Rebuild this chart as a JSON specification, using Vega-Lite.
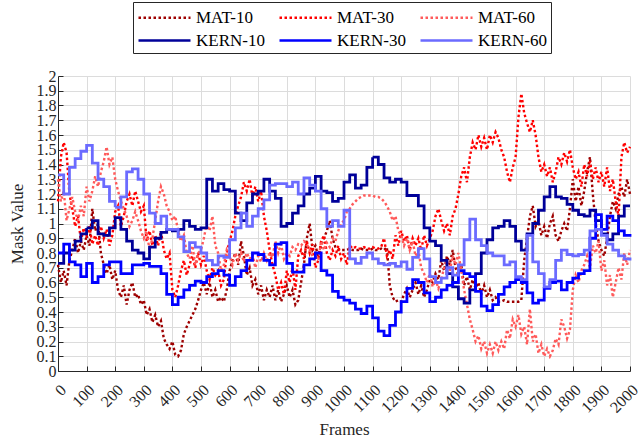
{
  "$schema": "https://vega.github.io/schema/vega-lite/v6.json",
  "width": 572,
  "height": 295,
  "autosize": {"type": "none"},
  "padding": {"left": 58, "top": 76, "right": 10, "bottom": 72},
  "config": {
    "font": "Liberation Serif",
    "view": {"stroke": null},
    "axis": {
      "labelFont": "Liberation Serif",
      "labelFontSize": 16,
      "labelColor": "#262626",
      "titleFont": "Liberation Serif",
      "titleFontSize": 17,
      "titleFontWeight": "normal",
      "titleColor": "#262626",
      "gridColor": "#dcdcdc",
      "gridWidth": 1,
      "domainColor": "#262626",
      "tickColor": "#262626"
    }
  },
  "data": {
    "values": [
      {"s":"MAT-10","f":0,"v":0.72},{"s":"MAT-10","f":10,"v":0.6},{"s":"MAT-10","f":20,"v":0.68},{"s":"MAT-10","f":30,"v":0.58},{"s":"MAT-10","f":40,"v":0.75},{"s":"MAT-10","f":50,"v":0.82},{"s":"MAT-10","f":60,"v":0.9},{"s":"MAT-10","f":70,"v":0.8},{"s":"MAT-10","f":80,"v":0.88},{"s":"MAT-10","f":90,"v":0.82},
      {"s":"MAT-10","f":100,"v":0.92},{"s":"MAT-10","f":110,"v":0.85},{"s":"MAT-10","f":120,"v":1.1},{"s":"MAT-10","f":130,"v":0.95},{"s":"MAT-10","f":140,"v":1.0},{"s":"MAT-10","f":150,"v":0.8},{"s":"MAT-10","f":160,"v":0.72},{"s":"MAT-10","f":170,"v":0.66},{"s":"MAT-10","f":180,"v":0.72},{"s":"MAT-10","f":190,"v":0.62},
      {"s":"MAT-10","f":200,"v":0.68},{"s":"MAT-10","f":210,"v":0.55},{"s":"MAT-10","f":220,"v":0.5},{"s":"MAT-10","f":230,"v":0.58},{"s":"MAT-10","f":240,"v":0.45},{"s":"MAT-10","f":250,"v":0.55},{"s":"MAT-10","f":260,"v":0.6},{"s":"MAT-10","f":270,"v":0.5},{"s":"MAT-10","f":280,"v":0.52},{"s":"MAT-10","f":290,"v":0.45},
      {"s":"MAT-10","f":300,"v":0.48},{"s":"MAT-10","f":310,"v":0.38},{"s":"MAT-10","f":320,"v":0.42},{"s":"MAT-10","f":330,"v":0.33},{"s":"MAT-10","f":340,"v":0.38},{"s":"MAT-10","f":350,"v":0.3},{"s":"MAT-10","f":360,"v":0.34},{"s":"MAT-10","f":370,"v":0.22},{"s":"MAT-10","f":380,"v":0.18},{"s":"MAT-10","f":390,"v":0.15},
      {"s":"MAT-10","f":400,"v":0.2},{"s":"MAT-10","f":410,"v":0.11},{"s":"MAT-10","f":420,"v":0.1},{"s":"MAT-10","f":430,"v":0.14},{"s":"MAT-10","f":440,"v":0.25},{"s":"MAT-10","f":450,"v":0.3},{"s":"MAT-10","f":460,"v":0.34},{"s":"MAT-10","f":470,"v":0.38},{"s":"MAT-10","f":480,"v":0.42},{"s":"MAT-10","f":490,"v":0.48},
      {"s":"MAT-10","f":500,"v":0.55},{"s":"MAT-10","f":510,"v":0.6},{"s":"MAT-10","f":520,"v":0.52},{"s":"MAT-10","f":530,"v":0.6},{"s":"MAT-10","f":540,"v":0.5},{"s":"MAT-10","f":550,"v":0.55},{"s":"MAT-10","f":560,"v":0.47},{"s":"MAT-10","f":570,"v":0.5},{"s":"MAT-10","f":580,"v":0.47},{"s":"MAT-10","f":590,"v":0.55},
      {"s":"MAT-10","f":600,"v":0.68},{"s":"MAT-10","f":610,"v":0.75},{"s":"MAT-10","f":620,"v":0.8},{"s":"MAT-10","f":630,"v":0.72},{"s":"MAT-10","f":640,"v":0.88},{"s":"MAT-10","f":650,"v":0.78},{"s":"MAT-10","f":660,"v":0.65},{"s":"MAT-10","f":670,"v":0.7},{"s":"MAT-10","f":680,"v":0.58},{"s":"MAT-10","f":690,"v":0.62},
      {"s":"MAT-10","f":700,"v":0.52},{"s":"MAT-10","f":710,"v":0.58},{"s":"MAT-10","f":720,"v":0.48},{"s":"MAT-10","f":730,"v":0.55},{"s":"MAT-10","f":740,"v":0.5},{"s":"MAT-10","f":750,"v":0.58},{"s":"MAT-10","f":760,"v":0.48},{"s":"MAT-10","f":770,"v":0.55},{"s":"MAT-10","f":780,"v":0.47},{"s":"MAT-10","f":790,"v":0.52},
      {"s":"MAT-10","f":800,"v":0.58},{"s":"MAT-10","f":810,"v":0.5},{"s":"MAT-10","f":820,"v":0.55},{"s":"MAT-10","f":830,"v":0.45},{"s":"MAT-10","f":840,"v":0.48},{"s":"MAT-10","f":850,"v":0.6},{"s":"MAT-10","f":860,"v":0.72},{"s":"MAT-10","f":870,"v":0.9},{"s":"MAT-10","f":880,"v":1.0},{"s":"MAT-10","f":890,"v":0.82},
      {"s":"MAT-10","f":900,"v":0.85},{"s":"MAT-10","f":910,"v":0.78},{"s":"MAT-10","f":920,"v":0.85},{"s":"MAT-10","f":930,"v":0.9},{"s":"MAT-10","f":940,"v":0.95},{"s":"MAT-10","f":950,"v":1.02},{"s":"MAT-10","f":960,"v":0.9},{"s":"MAT-10","f":970,"v":0.84},{"s":"MAT-10","f":980,"v":0.82},{"s":"MAT-10","f":990,"v":0.82},
      {"s":"MAT-10","f":1000,"v":0.82},{"s":"MAT-10","f":1010,"v":0.82},{"s":"MAT-10","f":1020,"v":0.83},{"s":"MAT-10","f":1030,"v":0.82},{"s":"MAT-10","f":1040,"v":0.82},{"s":"MAT-10","f":1050,"v":0.82},{"s":"MAT-10","f":1060,"v":0.83},{"s":"MAT-10","f":1070,"v":0.82},{"s":"MAT-10","f":1080,"v":0.82},{"s":"MAT-10","f":1090,"v":0.82},
      {"s":"MAT-10","f":1100,"v":0.83},{"s":"MAT-10","f":1110,"v":0.82},{"s":"MAT-10","f":1120,"v":0.82},{"s":"MAT-10","f":1130,"v":0.83},{"s":"MAT-10","f":1140,"v":0.82},{"s":"MAT-10","f":1150,"v":0.84},{"s":"MAT-10","f":1160,"v":0.58},{"s":"MAT-10","f":1170,"v":0.5},{"s":"MAT-10","f":1180,"v":0.47},{"s":"MAT-10","f":1190,"v":0.48},
      {"s":"MAT-10","f":1200,"v":0.47},{"s":"MAT-10","f":1210,"v":0.52},{"s":"MAT-10","f":1220,"v":0.56},{"s":"MAT-10","f":1230,"v":0.5},{"s":"MAT-10","f":1240,"v":0.55},{"s":"MAT-10","f":1250,"v":0.6},{"s":"MAT-10","f":1260,"v":0.52},{"s":"MAT-10","f":1270,"v":0.58},{"s":"MAT-10","f":1280,"v":0.5},{"s":"MAT-10","f":1290,"v":0.55},
      {"s":"MAT-10","f":1300,"v":0.62},{"s":"MAT-10","f":1310,"v":0.6},{"s":"MAT-10","f":1320,"v":0.66},{"s":"MAT-10","f":1330,"v":0.62},{"s":"MAT-10","f":1340,"v":0.75},{"s":"MAT-10","f":1350,"v":0.68},{"s":"MAT-10","f":1360,"v":0.78},{"s":"MAT-10","f":1370,"v":0.72},{"s":"MAT-10","f":1380,"v":0.82},{"s":"MAT-10","f":1390,"v":0.7},
      {"s":"MAT-10","f":1400,"v":0.65},{"s":"MAT-10","f":1410,"v":0.72},{"s":"MAT-10","f":1420,"v":0.58},{"s":"MAT-10","f":1430,"v":0.64},{"s":"MAT-10","f":1440,"v":0.55},{"s":"MAT-10","f":1450,"v":0.62},{"s":"MAT-10","f":1460,"v":0.56},{"s":"MAT-10","f":1470,"v":0.6},{"s":"MAT-10","f":1480,"v":0.52},{"s":"MAT-10","f":1490,"v":0.58},
      {"s":"MAT-10","f":1500,"v":0.5},{"s":"MAT-10","f":1510,"v":0.55},{"s":"MAT-10","f":1520,"v":0.48},{"s":"MAT-10","f":1530,"v":0.5},{"s":"MAT-10","f":1540,"v":0.47},{"s":"MAT-10","f":1550,"v":0.47},{"s":"MAT-10","f":1560,"v":0.48},{"s":"MAT-10","f":1570,"v":0.47},{"s":"MAT-10","f":1580,"v":0.47},{"s":"MAT-10","f":1590,"v":0.47},
      {"s":"MAT-10","f":1600,"v":0.47},{"s":"MAT-10","f":1610,"v":0.47},{"s":"MAT-10","f":1620,"v":0.48},{"s":"MAT-10","f":1630,"v":0.75},{"s":"MAT-10","f":1640,"v":0.9},{"s":"MAT-10","f":1650,"v":1.05},{"s":"MAT-10","f":1660,"v":1.12},{"s":"MAT-10","f":1670,"v":0.98},{"s":"MAT-10","f":1680,"v":1.02},{"s":"MAT-10","f":1690,"v":0.92},
      {"s":"MAT-10","f":1700,"v":0.98},{"s":"MAT-10","f":1710,"v":0.9},{"s":"MAT-10","f":1720,"v":1.0},{"s":"MAT-10","f":1730,"v":1.05},{"s":"MAT-10","f":1740,"v":0.92},{"s":"MAT-10","f":1750,"v":0.88},{"s":"MAT-10","f":1760,"v":0.95},{"s":"MAT-10","f":1770,"v":1.0},{"s":"MAT-10","f":1780,"v":0.95},{"s":"MAT-10","f":1790,"v":1.1},
      {"s":"MAT-10","f":1800,"v":1.3},{"s":"MAT-10","f":1810,"v":1.15},{"s":"MAT-10","f":1820,"v":1.25},{"s":"MAT-10","f":1830,"v":1.12},{"s":"MAT-10","f":1840,"v":1.22},{"s":"MAT-10","f":1850,"v":1.35},{"s":"MAT-10","f":1860,"v":1.45},{"s":"MAT-10","f":1870,"v":1.2},{"s":"MAT-10","f":1880,"v":1.0},{"s":"MAT-10","f":1890,"v":0.88},
      {"s":"MAT-10","f":1900,"v":0.82},{"s":"MAT-10","f":1910,"v":0.78},{"s":"MAT-10","f":1920,"v":0.9},{"s":"MAT-10","f":1930,"v":1.05},{"s":"MAT-10","f":1940,"v":1.15},{"s":"MAT-10","f":1950,"v":1.1},{"s":"MAT-10","f":1960,"v":1.2},{"s":"MAT-10","f":1970,"v":1.25},{"s":"MAT-10","f":1980,"v":1.18},{"s":"MAT-10","f":1990,"v":1.3},
      {"s":"MAT-10","f":2000,"v":1.2},

      {"s":"MAT-30","f":0,"v":1.15},{"s":"MAT-30","f":10,"v":1.45},{"s":"MAT-30","f":20,"v":1.55},{"s":"MAT-30","f":30,"v":1.48},{"s":"MAT-30","f":40,"v":1.2},{"s":"MAT-30","f":50,"v":1.1},{"s":"MAT-30","f":60,"v":0.98},{"s":"MAT-30","f":70,"v":1.05},{"s":"MAT-30","f":80,"v":0.88},{"s":"MAT-30","f":90,"v":0.97},
      {"s":"MAT-30","f":100,"v":0.92},{"s":"MAT-30","f":110,"v":0.98},{"s":"MAT-30","f":120,"v":0.86},{"s":"MAT-30","f":130,"v":0.92},{"s":"MAT-30","f":140,"v":0.85},{"s":"MAT-30","f":150,"v":0.98},{"s":"MAT-30","f":160,"v":0.9},{"s":"MAT-30","f":170,"v":0.96},{"s":"MAT-30","f":180,"v":0.85},{"s":"MAT-30","f":190,"v":0.92},
      {"s":"MAT-30","f":200,"v":1.08},{"s":"MAT-30","f":210,"v":1.12},{"s":"MAT-30","f":220,"v":0.98},{"s":"MAT-30","f":230,"v":1.05},{"s":"MAT-30","f":240,"v":1.15},{"s":"MAT-30","f":250,"v":1.2},{"s":"MAT-30","f":260,"v":1.12},{"s":"MAT-30","f":270,"v":1.22},{"s":"MAT-30","f":280,"v":1.15},{"s":"MAT-30","f":290,"v":1.08},
      {"s":"MAT-30","f":300,"v":1.12},{"s":"MAT-30","f":310,"v":0.88},{"s":"MAT-30","f":320,"v":0.95},{"s":"MAT-30","f":330,"v":0.85},{"s":"MAT-30","f":340,"v":0.92},{"s":"MAT-30","f":350,"v":0.85},{"s":"MAT-30","f":360,"v":0.95},{"s":"MAT-30","f":370,"v":0.82},{"s":"MAT-30","f":380,"v":0.76},{"s":"MAT-30","f":390,"v":0.8},
      {"s":"MAT-30","f":400,"v":0.55},{"s":"MAT-30","f":410,"v":0.5},{"s":"MAT-30","f":420,"v":0.58},{"s":"MAT-30","f":430,"v":0.68},{"s":"MAT-30","f":440,"v":0.75},{"s":"MAT-30","f":450,"v":0.65},{"s":"MAT-30","f":460,"v":0.72},{"s":"MAT-30","f":470,"v":0.78},{"s":"MAT-30","f":480,"v":0.7},{"s":"MAT-30","f":490,"v":0.8},
      {"s":"MAT-30","f":500,"v":0.72},{"s":"MAT-30","f":510,"v":0.78},{"s":"MAT-30","f":520,"v":0.68},{"s":"MAT-30","f":530,"v":0.62},{"s":"MAT-30","f":540,"v":0.7},{"s":"MAT-30","f":550,"v":0.65},{"s":"MAT-30","f":560,"v":0.68},{"s":"MAT-30","f":570,"v":0.58},{"s":"MAT-30","f":580,"v":0.62},{"s":"MAT-30","f":590,"v":0.8},
      {"s":"MAT-30","f":600,"v":0.88},{"s":"MAT-30","f":610,"v":0.95},{"s":"MAT-30","f":620,"v":1.05},{"s":"MAT-30","f":630,"v":1.12},{"s":"MAT-30","f":640,"v":1.18},{"s":"MAT-30","f":650,"v":1.28},{"s":"MAT-30","f":660,"v":1.22},{"s":"MAT-30","f":670,"v":1.3},{"s":"MAT-30","f":680,"v":1.18},{"s":"MAT-30","f":690,"v":1.25},
      {"s":"MAT-30","f":700,"v":1.15},{"s":"MAT-30","f":710,"v":1.22},{"s":"MAT-30","f":720,"v":1.05},{"s":"MAT-30","f":730,"v":0.95},{"s":"MAT-30","f":740,"v":0.82},{"s":"MAT-30","f":750,"v":0.72},{"s":"MAT-30","f":760,"v":0.65},{"s":"MAT-30","f":770,"v":0.55},{"s":"MAT-30","f":780,"v":0.6},{"s":"MAT-30","f":790,"v":0.52},
      {"s":"MAT-30","f":800,"v":0.68},{"s":"MAT-30","f":810,"v":0.6},{"s":"MAT-30","f":820,"v":0.7},{"s":"MAT-30","f":830,"v":0.55},{"s":"MAT-30","f":840,"v":0.78},{"s":"MAT-30","f":850,"v":0.82},{"s":"MAT-30","f":860,"v":0.76},{"s":"MAT-30","f":870,"v":0.88},{"s":"MAT-30","f":880,"v":0.8},{"s":"MAT-30","f":890,"v":0.86},
      {"s":"MAT-30","f":900,"v":0.7},{"s":"MAT-30","f":910,"v":0.75},{"s":"MAT-30","f":920,"v":0.88},{"s":"MAT-30","f":930,"v":0.92},{"s":"MAT-30","f":940,"v":0.8},{"s":"MAT-30","f":950,"v":0.75},{"s":"MAT-30","f":960,"v":0.82},{"s":"MAT-30","f":970,"v":0.78},{"s":"MAT-30","f":980,"v":0.85},{"s":"MAT-30","f":990,"v":0.76},
      {"s":"MAT-30","f":1000,"v":0.8},{"s":"MAT-30","f":1010,"v":0.72},{"s":"MAT-30","f":1020,"v":0.85},{"s":"MAT-30","f":1030,"v":0.83},{"s":"MAT-30","f":1040,"v":0.84},{"s":"MAT-30","f":1050,"v":0.83},{"s":"MAT-30","f":1060,"v":0.83},{"s":"MAT-30","f":1070,"v":0.84},{"s":"MAT-30","f":1080,"v":0.83},{"s":"MAT-30","f":1090,"v":0.83},
      {"s":"MAT-30","f":1100,"v":0.84},{"s":"MAT-30","f":1110,"v":0.83},{"s":"MAT-30","f":1120,"v":0.83},{"s":"MAT-30","f":1130,"v":0.84},{"s":"MAT-30","f":1140,"v":0.9},{"s":"MAT-30","f":1150,"v":0.78},{"s":"MAT-30","f":1160,"v":0.82},{"s":"MAT-30","f":1170,"v":0.76},{"s":"MAT-30","f":1180,"v":0.92},{"s":"MAT-30","f":1190,"v":0.85},
      {"s":"MAT-30","f":1200,"v":0.95},{"s":"MAT-30","f":1210,"v":0.88},{"s":"MAT-30","f":1220,"v":0.92},{"s":"MAT-30","f":1230,"v":0.82},{"s":"MAT-30","f":1240,"v":0.9},{"s":"MAT-30","f":1250,"v":0.85},{"s":"MAT-30","f":1260,"v":0.9},{"s":"MAT-30","f":1270,"v":0.82},{"s":"MAT-30","f":1280,"v":0.92},{"s":"MAT-30","f":1290,"v":0.85},
      {"s":"MAT-30","f":1300,"v":0.9},{"s":"MAT-30","f":1310,"v":0.95},{"s":"MAT-30","f":1320,"v":1.05},{"s":"MAT-30","f":1330,"v":1.1},{"s":"MAT-30","f":1340,"v":1.02},{"s":"MAT-30","f":1350,"v":0.95},{"s":"MAT-30","f":1360,"v":1.0},{"s":"MAT-30","f":1370,"v":0.92},{"s":"MAT-30","f":1380,"v":1.05},{"s":"MAT-30","f":1390,"v":1.1},
      {"s":"MAT-30","f":1400,"v":1.2},{"s":"MAT-30","f":1410,"v":1.32},{"s":"MAT-30","f":1420,"v":1.38},{"s":"MAT-30","f":1430,"v":1.28},{"s":"MAT-30","f":1440,"v":1.45},{"s":"MAT-30","f":1450,"v":1.55},{"s":"MAT-30","f":1460,"v":1.5},{"s":"MAT-30","f":1470,"v":1.6},{"s":"MAT-30","f":1480,"v":1.52},{"s":"MAT-30","f":1490,"v":1.58},
      {"s":"MAT-30","f":1500,"v":1.5},{"s":"MAT-30","f":1510,"v":1.6},{"s":"MAT-30","f":1520,"v":1.55},{"s":"MAT-30","f":1530,"v":1.62},{"s":"MAT-30","f":1540,"v":1.58},{"s":"MAT-30","f":1550,"v":1.5},{"s":"MAT-30","f":1560,"v":1.45},{"s":"MAT-30","f":1570,"v":1.35},{"s":"MAT-30","f":1580,"v":1.28},{"s":"MAT-30","f":1590,"v":1.38},
      {"s":"MAT-30","f":1600,"v":1.45},{"s":"MAT-30","f":1610,"v":1.72},{"s":"MAT-30","f":1620,"v":1.88},{"s":"MAT-30","f":1630,"v":1.75},{"s":"MAT-30","f":1640,"v":1.68},{"s":"MAT-30","f":1650,"v":1.62},{"s":"MAT-30","f":1660,"v":1.7},{"s":"MAT-30","f":1670,"v":1.6},{"s":"MAT-30","f":1680,"v":1.45},{"s":"MAT-30","f":1690,"v":1.35},
      {"s":"MAT-30","f":1700,"v":1.4},{"s":"MAT-30","f":1710,"v":1.32},{"s":"MAT-30","f":1720,"v":1.38},{"s":"MAT-30","f":1730,"v":1.28},{"s":"MAT-30","f":1740,"v":1.35},{"s":"MAT-30","f":1750,"v":1.45},{"s":"MAT-30","f":1760,"v":1.4},{"s":"MAT-30","f":1770,"v":1.48},{"s":"MAT-30","f":1780,"v":1.42},{"s":"MAT-30","f":1790,"v":1.5},
      {"s":"MAT-30","f":1800,"v":1.38},{"s":"MAT-30","f":1810,"v":1.3},{"s":"MAT-30","f":1820,"v":1.35},{"s":"MAT-30","f":1830,"v":1.25},{"s":"MAT-30","f":1840,"v":1.4},{"s":"MAT-30","f":1850,"v":1.32},{"s":"MAT-30","f":1860,"v":1.42},{"s":"MAT-30","f":1870,"v":1.3},{"s":"MAT-30","f":1880,"v":1.38},{"s":"MAT-30","f":1890,"v":1.28},
      {"s":"MAT-30","f":1900,"v":1.35},{"s":"MAT-30","f":1910,"v":1.25},{"s":"MAT-30","f":1920,"v":1.38},{"s":"MAT-30","f":1930,"v":1.22},{"s":"MAT-30","f":1940,"v":1.3},{"s":"MAT-30","f":1950,"v":1.15},{"s":"MAT-30","f":1960,"v":1.05},{"s":"MAT-30","f":1970,"v":1.45},{"s":"MAT-30","f":1980,"v":1.55},{"s":"MAT-30","f":1990,"v":1.48},
      {"s":"MAT-30","f":2000,"v":1.52},

      {"s":"MAT-60","f":0,"v":1.3},{"s":"MAT-60","f":10,"v":1.15},{"s":"MAT-60","f":20,"v":1.22},{"s":"MAT-60","f":30,"v":1.02},{"s":"MAT-60","f":40,"v":1.1},{"s":"MAT-60","f":50,"v":1.18},{"s":"MAT-60","f":60,"v":1.08},{"s":"MAT-60","f":70,"v":1.02},{"s":"MAT-60","f":80,"v":1.12},{"s":"MAT-60","f":90,"v":1.05},
      {"s":"MAT-60","f":100,"v":1.25},{"s":"MAT-60","f":110,"v":1.15},{"s":"MAT-60","f":120,"v":1.22},{"s":"MAT-60","f":130,"v":1.32},{"s":"MAT-60","f":140,"v":1.25},{"s":"MAT-60","f":150,"v":1.35},{"s":"MAT-60","f":160,"v":1.42},{"s":"MAT-60","f":170,"v":1.52},{"s":"MAT-60","f":180,"v":1.4},{"s":"MAT-60","f":190,"v":1.45},
      {"s":"MAT-60","f":200,"v":1.3},{"s":"MAT-60","f":210,"v":1.22},{"s":"MAT-60","f":220,"v":1.15},{"s":"MAT-60","f":230,"v":1.1},{"s":"MAT-60","f":240,"v":1.05},{"s":"MAT-60","f":250,"v":0.98},{"s":"MAT-60","f":260,"v":1.02},{"s":"MAT-60","f":270,"v":1.08},{"s":"MAT-60","f":280,"v":1.02},{"s":"MAT-60","f":290,"v":0.95},
      {"s":"MAT-60","f":300,"v":0.9},{"s":"MAT-60","f":310,"v":0.95},{"s":"MAT-60","f":320,"v":0.82},{"s":"MAT-60","f":330,"v":0.9},{"s":"MAT-60","f":340,"v":1.02},{"s":"MAT-60","f":350,"v":1.15},{"s":"MAT-60","f":360,"v":1.25},{"s":"MAT-60","f":370,"v":1.2},{"s":"MAT-60","f":380,"v":1.12},{"s":"MAT-60","f":390,"v":1.08},
      {"s":"MAT-60","f":400,"v":1.02},{"s":"MAT-60","f":410,"v":1.05},{"s":"MAT-60","f":420,"v":0.95},{"s":"MAT-60","f":430,"v":0.88},{"s":"MAT-60","f":440,"v":0.92},{"s":"MAT-60","f":450,"v":0.8},{"s":"MAT-60","f":460,"v":0.76},{"s":"MAT-60","f":470,"v":0.85},{"s":"MAT-60","f":480,"v":0.72},{"s":"MAT-60","f":490,"v":0.8},
      {"s":"MAT-60","f":500,"v":0.82},{"s":"MAT-60","f":510,"v":0.9},{"s":"MAT-60","f":520,"v":1.0},{"s":"MAT-60","f":530,"v":0.95},{"s":"MAT-60","f":540,"v":1.05},{"s":"MAT-60","f":550,"v":0.85},{"s":"MAT-60","f":560,"v":0.8},{"s":"MAT-60","f":570,"v":0.68},{"s":"MAT-60","f":580,"v":0.72},{"s":"MAT-60","f":590,"v":0.82},
      {"s":"MAT-60","f":600,"v":0.78},{"s":"MAT-60","f":610,"v":0.72},{"s":"MAT-60","f":620,"v":0.8},{"s":"MAT-60","f":630,"v":0.75},{"s":"MAT-60","f":640,"v":0.8},{"s":"MAT-60","f":650,"v":0.74},{"s":"MAT-60","f":660,"v":0.8},{"s":"MAT-60","f":670,"v":0.76},{"s":"MAT-60","f":680,"v":0.79},{"s":"MAT-60","f":690,"v":0.7},
      {"s":"MAT-60","f":700,"v":0.78},{"s":"MAT-60","f":710,"v":0.74},{"s":"MAT-60","f":720,"v":0.8},{"s":"MAT-60","f":730,"v":0.75},{"s":"MAT-60","f":740,"v":0.8},{"s":"MAT-60","f":750,"v":0.77},{"s":"MAT-60","f":760,"v":0.88},{"s":"MAT-60","f":770,"v":0.8},{"s":"MAT-60","f":780,"v":0.86},{"s":"MAT-60","f":790,"v":0.76},
      {"s":"MAT-60","f":800,"v":0.8},{"s":"MAT-60","f":810,"v":0.78},{"s":"MAT-60","f":820,"v":0.84},{"s":"MAT-60","f":830,"v":0.82},{"s":"MAT-60","f":840,"v":0.86},{"s":"MAT-60","f":850,"v":0.85},{"s":"MAT-60","f":860,"v":0.88},{"s":"MAT-60","f":870,"v":0.86},{"s":"MAT-60","f":880,"v":0.82},{"s":"MAT-60","f":890,"v":0.78},
      {"s":"MAT-60","f":900,"v":0.8},{"s":"MAT-60","f":910,"v":0.75},{"s":"MAT-60","f":920,"v":0.88},{"s":"MAT-60","f":930,"v":0.82},{"s":"MAT-60","f":940,"v":0.87},{"s":"MAT-60","f":950,"v":0.84},{"s":"MAT-60","f":960,"v":0.9},{"s":"MAT-60","f":970,"v":0.88},{"s":"MAT-60","f":980,"v":0.95},{"s":"MAT-60","f":990,"v":1.0},
      {"s":"MAT-60","f":1000,"v":1.02},{"s":"MAT-60","f":1010,"v":1.08},{"s":"MAT-60","f":1020,"v":1.1},{"s":"MAT-60","f":1030,"v":1.13},{"s":"MAT-60","f":1040,"v":1.15},{"s":"MAT-60","f":1050,"v":1.17},{"s":"MAT-60","f":1060,"v":1.18},{"s":"MAT-60","f":1070,"v":1.19},{"s":"MAT-60","f":1080,"v":1.19},{"s":"MAT-60","f":1090,"v":1.19},
      {"s":"MAT-60","f":1100,"v":1.19},{"s":"MAT-60","f":1110,"v":1.18},{"s":"MAT-60","f":1120,"v":1.18},{"s":"MAT-60","f":1130,"v":1.17},{"s":"MAT-60","f":1140,"v":1.15},{"s":"MAT-60","f":1150,"v":1.12},{"s":"MAT-60","f":1160,"v":1.08},{"s":"MAT-60","f":1170,"v":1.02},{"s":"MAT-60","f":1180,"v":1.05},{"s":"MAT-60","f":1190,"v":0.95},
      {"s":"MAT-60","f":1200,"v":0.92},{"s":"MAT-60","f":1210,"v":0.85},{"s":"MAT-60","f":1220,"v":0.9},{"s":"MAT-60","f":1230,"v":0.82},{"s":"MAT-60","f":1240,"v":0.88},{"s":"MAT-60","f":1250,"v":0.78},{"s":"MAT-60","f":1260,"v":0.82},{"s":"MAT-60","f":1270,"v":0.7},{"s":"MAT-60","f":1280,"v":0.66},{"s":"MAT-60","f":1290,"v":0.6},
      {"s":"MAT-60","f":1300,"v":0.66},{"s":"MAT-60","f":1310,"v":0.57},{"s":"MAT-60","f":1320,"v":0.62},{"s":"MAT-60","f":1330,"v":0.56},{"s":"MAT-60","f":1340,"v":0.62},{"s":"MAT-60","f":1350,"v":0.7},{"s":"MAT-60","f":1360,"v":0.75},{"s":"MAT-60","f":1370,"v":0.68},{"s":"MAT-60","f":1380,"v":0.78},{"s":"MAT-60","f":1390,"v":0.72},
      {"s":"MAT-60","f":1400,"v":0.8},{"s":"MAT-60","f":1410,"v":0.68},{"s":"MAT-60","f":1420,"v":0.55},{"s":"MAT-60","f":1430,"v":0.45},{"s":"MAT-60","f":1440,"v":0.35},{"s":"MAT-60","f":1450,"v":0.28},{"s":"MAT-60","f":1460,"v":0.2},{"s":"MAT-60","f":1470,"v":0.24},{"s":"MAT-60","f":1480,"v":0.15},{"s":"MAT-60","f":1490,"v":0.2},
      {"s":"MAT-60","f":1500,"v":0.12},{"s":"MAT-60","f":1510,"v":0.18},{"s":"MAT-60","f":1520,"v":0.12},{"s":"MAT-60","f":1530,"v":0.2},{"s":"MAT-60","f":1540,"v":0.14},{"s":"MAT-60","f":1550,"v":0.2},{"s":"MAT-60","f":1560,"v":0.15},{"s":"MAT-60","f":1570,"v":0.28},{"s":"MAT-60","f":1580,"v":0.22},{"s":"MAT-60","f":1590,"v":0.35},
      {"s":"MAT-60","f":1600,"v":0.3},{"s":"MAT-60","f":1610,"v":0.38},{"s":"MAT-60","f":1620,"v":0.25},{"s":"MAT-60","f":1630,"v":0.3},{"s":"MAT-60","f":1640,"v":0.18},{"s":"MAT-60","f":1650,"v":0.42},{"s":"MAT-60","f":1660,"v":0.2},{"s":"MAT-60","f":1670,"v":0.25},{"s":"MAT-60","f":1680,"v":0.12},{"s":"MAT-60","f":1690,"v":0.18},
      {"s":"MAT-60","f":1700,"v":0.1},{"s":"MAT-60","f":1710,"v":0.15},{"s":"MAT-60","f":1720,"v":0.1},{"s":"MAT-60","f":1730,"v":0.14},{"s":"MAT-60","f":1740,"v":0.22},{"s":"MAT-60","f":1750,"v":0.18},{"s":"MAT-60","f":1760,"v":0.35},{"s":"MAT-60","f":1770,"v":0.3},{"s":"MAT-60","f":1780,"v":0.22},{"s":"MAT-60","f":1790,"v":0.28},
      {"s":"MAT-60","f":1800,"v":0.55},{"s":"MAT-60","f":1810,"v":0.65},{"s":"MAT-60","f":1820,"v":0.6},{"s":"MAT-60","f":1830,"v":0.68},{"s":"MAT-60","f":1840,"v":0.72},{"s":"MAT-60","f":1850,"v":0.78},{"s":"MAT-60","f":1860,"v":0.7},{"s":"MAT-60","f":1870,"v":0.85},{"s":"MAT-60","f":1880,"v":0.8},{"s":"MAT-60","f":1890,"v":0.88},
      {"s":"MAT-60","f":1900,"v":0.68},{"s":"MAT-60","f":1910,"v":0.75},{"s":"MAT-60","f":1920,"v":0.58},{"s":"MAT-60","f":1930,"v":0.65},{"s":"MAT-60","f":1940,"v":0.5},{"s":"MAT-60","f":1950,"v":0.6},{"s":"MAT-60","f":1960,"v":0.7},{"s":"MAT-60","f":1970,"v":0.62},{"s":"MAT-60","f":1980,"v":0.8},{"s":"MAT-60","f":1990,"v":0.72},
      {"s":"MAT-60","f":2000,"v":0.82},

      {"s":"KERN-10","f":0,"v":0.73},{"s":"KERN-10","f":20,"v":0.8},{"s":"KERN-10","f":40,"v":0.82},{"s":"KERN-10","f":60,"v":0.88},{"s":"KERN-10","f":80,"v":0.93},{"s":"KERN-10","f":100,"v":0.97},{"s":"KERN-10","f":120,"v":1.02},{"s":"KERN-10","f":140,"v":0.93},{"s":"KERN-10","f":160,"v":0.92},{"s":"KERN-10","f":180,"v":0.97},
      {"s":"KERN-10","f":200,"v":1.04},{"s":"KERN-10","f":220,"v":0.96},{"s":"KERN-10","f":240,"v":0.88},{"s":"KERN-10","f":260,"v":0.82},{"s":"KERN-10","f":280,"v":0.8},{"s":"KERN-10","f":300,"v":0.76},{"s":"KERN-10","f":320,"v":0.84},{"s":"KERN-10","f":340,"v":0.9},{"s":"KERN-10","f":360,"v":0.94},{"s":"KERN-10","f":380,"v":0.96},
      {"s":"KERN-10","f":400,"v":0.95},{"s":"KERN-10","f":420,"v":0.96},{"s":"KERN-10","f":440,"v":1.02},{"s":"KERN-10","f":460,"v":0.98},{"s":"KERN-10","f":480,"v":0.96},{"s":"KERN-10","f":500,"v":0.97},{"s":"KERN-10","f":520,"v":1.3},{"s":"KERN-10","f":540,"v":1.22},{"s":"KERN-10","f":560,"v":1.27},{"s":"KERN-10","f":580,"v":1.23},
      {"s":"KERN-10","f":600,"v":1.22},{"s":"KERN-10","f":620,"v":1.07},{"s":"KERN-10","f":640,"v":1.02},{"s":"KERN-10","f":660,"v":1.14},{"s":"KERN-10","f":680,"v":1.2},{"s":"KERN-10","f":700,"v":1.22},{"s":"KERN-10","f":720,"v":1.3},{"s":"KERN-10","f":740,"v":1.22},{"s":"KERN-10","f":760,"v":1.17},{"s":"KERN-10","f":780,"v":0.98},
      {"s":"KERN-10","f":800,"v":1.0},{"s":"KERN-10","f":820,"v":1.07},{"s":"KERN-10","f":840,"v":1.12},{"s":"KERN-10","f":860,"v":1.2},{"s":"KERN-10","f":880,"v":1.24},{"s":"KERN-10","f":900,"v":1.32},{"s":"KERN-10","f":920,"v":1.22},{"s":"KERN-10","f":940,"v":1.21},{"s":"KERN-10","f":960,"v":1.15},{"s":"KERN-10","f":980,"v":1.17},
      {"s":"KERN-10","f":1000,"v":1.28},{"s":"KERN-10","f":1020,"v":1.33},{"s":"KERN-10","f":1040,"v":1.24},{"s":"KERN-10","f":1060,"v":1.26},{"s":"KERN-10","f":1080,"v":1.38},{"s":"KERN-10","f":1100,"v":1.45},{"s":"KERN-10","f":1120,"v":1.4},{"s":"KERN-10","f":1140,"v":1.31},{"s":"KERN-10","f":1160,"v":1.28},{"s":"KERN-10","f":1180,"v":1.3},
      {"s":"KERN-10","f":1200,"v":1.28},{"s":"KERN-10","f":1220,"v":1.19},{"s":"KERN-10","f":1240,"v":1.19},{"s":"KERN-10","f":1260,"v":1.12},{"s":"KERN-10","f":1280,"v":0.97},{"s":"KERN-10","f":1300,"v":0.88},{"s":"KERN-10","f":1320,"v":0.85},{"s":"KERN-10","f":1340,"v":0.75},{"s":"KERN-10","f":1360,"v":0.66},{"s":"KERN-10","f":1380,"v":0.57},
      {"s":"KERN-10","f":1400,"v":0.49},{"s":"KERN-10","f":1420,"v":0.46},{"s":"KERN-10","f":1440,"v":0.55},{"s":"KERN-10","f":1460,"v":0.66},{"s":"KERN-10","f":1480,"v":0.8},{"s":"KERN-10","f":1500,"v":0.89},{"s":"KERN-10","f":1520,"v":0.97},{"s":"KERN-10","f":1540,"v":0.98},{"s":"KERN-10","f":1560,"v":1.02},{"s":"KERN-10","f":1580,"v":0.98},
      {"s":"KERN-10","f":1600,"v":0.88},{"s":"KERN-10","f":1620,"v":0.82},{"s":"KERN-10","f":1640,"v":0.93},{"s":"KERN-10","f":1660,"v":1.0},{"s":"KERN-10","f":1680,"v":1.09},{"s":"KERN-10","f":1700,"v":1.18},{"s":"KERN-10","f":1720,"v":1.25},{"s":"KERN-10","f":1740,"v":1.18},{"s":"KERN-10","f":1760,"v":1.17},{"s":"KERN-10","f":1780,"v":1.13},
      {"s":"KERN-10","f":1800,"v":1.09},{"s":"KERN-10","f":1820,"v":1.06},{"s":"KERN-10","f":1840,"v":1.05},{"s":"KERN-10","f":1860,"v":1.09},{"s":"KERN-10","f":1880,"v":1.02},{"s":"KERN-10","f":1900,"v":0.93},{"s":"KERN-10","f":1920,"v":0.89},{"s":"KERN-10","f":1940,"v":0.93},{"s":"KERN-10","f":1960,"v":1.05},{"s":"KERN-10","f":1980,"v":1.12},
      {"s":"KERN-10","f":2000,"v":1.12},

      {"s":"KERN-30","f":0,"v":0.8},{"s":"KERN-30","f":20,"v":0.86},{"s":"KERN-30","f":40,"v":0.74},{"s":"KERN-30","f":60,"v":0.72},{"s":"KERN-30","f":80,"v":0.64},{"s":"KERN-30","f":100,"v":0.73},{"s":"KERN-30","f":120,"v":0.6},{"s":"KERN-30","f":140,"v":0.64},{"s":"KERN-30","f":160,"v":0.72},{"s":"KERN-30","f":180,"v":0.74},
      {"s":"KERN-30","f":200,"v":0.74},{"s":"KERN-30","f":220,"v":0.66},{"s":"KERN-30","f":240,"v":0.66},{"s":"KERN-30","f":260,"v":0.72},{"s":"KERN-30","f":280,"v":0.72},{"s":"KERN-30","f":300,"v":0.73},{"s":"KERN-30","f":320,"v":0.71},{"s":"KERN-30","f":340,"v":0.71},{"s":"KERN-30","f":360,"v":0.66},{"s":"KERN-30","f":380,"v":0.52},
      {"s":"KERN-30","f":400,"v":0.45},{"s":"KERN-30","f":420,"v":0.5},{"s":"KERN-30","f":440,"v":0.55},{"s":"KERN-30","f":460,"v":0.58},{"s":"KERN-30","f":480,"v":0.61},{"s":"KERN-30","f":500,"v":0.6},{"s":"KERN-30","f":520,"v":0.64},{"s":"KERN-30","f":540,"v":0.66},{"s":"KERN-30","f":560,"v":0.68},{"s":"KERN-30","f":580,"v":0.65},
      {"s":"KERN-30","f":600,"v":0.58},{"s":"KERN-30","f":620,"v":0.64},{"s":"KERN-30","f":640,"v":0.68},{"s":"KERN-30","f":660,"v":0.75},{"s":"KERN-30","f":680,"v":0.8},{"s":"KERN-30","f":700,"v":0.79},{"s":"KERN-30","f":720,"v":0.75},{"s":"KERN-30","f":740,"v":0.72},{"s":"KERN-30","f":760,"v":0.86},{"s":"KERN-30","f":780,"v":0.87},
      {"s":"KERN-30","f":800,"v":0.73},{"s":"KERN-30","f":820,"v":0.67},{"s":"KERN-30","f":840,"v":0.67},{"s":"KERN-30","f":860,"v":0.72},{"s":"KERN-30","f":880,"v":0.76},{"s":"KERN-30","f":900,"v":0.8},{"s":"KERN-30","f":920,"v":0.68},{"s":"KERN-30","f":940,"v":0.65},{"s":"KERN-30","f":960,"v":0.54},{"s":"KERN-30","f":980,"v":0.5},
      {"s":"KERN-30","f":1000,"v":0.48},{"s":"KERN-30","f":1020,"v":0.46},{"s":"KERN-30","f":1040,"v":0.42},{"s":"KERN-30","f":1060,"v":0.39},{"s":"KERN-30","f":1080,"v":0.44},{"s":"KERN-30","f":1100,"v":0.36},{"s":"KERN-30","f":1120,"v":0.27},{"s":"KERN-30","f":1140,"v":0.24},{"s":"KERN-30","f":1160,"v":0.31},{"s":"KERN-30","f":1180,"v":0.4},
      {"s":"KERN-30","f":1200,"v":0.47},{"s":"KERN-30","f":1220,"v":0.56},{"s":"KERN-30","f":1240,"v":0.62},{"s":"KERN-30","f":1260,"v":0.6},{"s":"KERN-30","f":1280,"v":0.53},{"s":"KERN-30","f":1300,"v":0.47},{"s":"KERN-30","f":1320,"v":0.5},{"s":"KERN-30","f":1340,"v":0.55},{"s":"KERN-30","f":1360,"v":0.58},{"s":"KERN-30","f":1380,"v":0.6},
      {"s":"KERN-30","f":1400,"v":0.68},{"s":"KERN-30","f":1420,"v":0.66},{"s":"KERN-30","f":1440,"v":0.64},{"s":"KERN-30","f":1460,"v":0.54},{"s":"KERN-30","f":1480,"v":0.44},{"s":"KERN-30","f":1500,"v":0.41},{"s":"KERN-30","f":1520,"v":0.45},{"s":"KERN-30","f":1540,"v":0.52},{"s":"KERN-30","f":1560,"v":0.57},{"s":"KERN-30","f":1580,"v":0.6},
      {"s":"KERN-30","f":1600,"v":0.62},{"s":"KERN-30","f":1620,"v":0.6},{"s":"KERN-30","f":1640,"v":0.53},{"s":"KERN-30","f":1660,"v":0.46},{"s":"KERN-30","f":1680,"v":0.48},{"s":"KERN-30","f":1700,"v":0.56},{"s":"KERN-30","f":1720,"v":0.6},{"s":"KERN-30","f":1740,"v":0.61},{"s":"KERN-30","f":1760,"v":0.55},{"s":"KERN-30","f":1780,"v":0.6},
      {"s":"KERN-30","f":1800,"v":0.63},{"s":"KERN-30","f":1820,"v":0.66},{"s":"KERN-30","f":1840,"v":0.68},{"s":"KERN-30","f":1860,"v":0.9},{"s":"KERN-30","f":1880,"v":1.06},{"s":"KERN-30","f":1900,"v":0.96},{"s":"KERN-30","f":1920,"v":1.05},{"s":"KERN-30","f":1940,"v":1.02},{"s":"KERN-30","f":1960,"v":0.95},{"s":"KERN-30","f":1980,"v":0.92},
      {"s":"KERN-30","f":2000,"v":0.91},

      {"s":"KERN-60","f":0,"v":1.33},{"s":"KERN-60","f":20,"v":1.2},{"s":"KERN-60","f":40,"v":1.38},{"s":"KERN-60","f":60,"v":1.44},{"s":"KERN-60","f":80,"v":1.49},{"s":"KERN-60","f":100,"v":1.53},{"s":"KERN-60","f":120,"v":1.41},{"s":"KERN-60","f":140,"v":1.3},{"s":"KERN-60","f":160,"v":1.25},{"s":"KERN-60","f":180,"v":1.15},
      {"s":"KERN-60","f":200,"v":1.11},{"s":"KERN-60","f":220,"v":1.18},{"s":"KERN-60","f":240,"v":1.35},{"s":"KERN-60","f":260,"v":1.37},{"s":"KERN-60","f":280,"v":1.3},{"s":"KERN-60","f":300,"v":1.2},{"s":"KERN-60","f":320,"v":1.07},{"s":"KERN-60","f":340,"v":1.0},{"s":"KERN-60","f":360,"v":1.05},{"s":"KERN-60","f":380,"v":0.96},
      {"s":"KERN-60","f":400,"v":0.96},{"s":"KERN-60","f":420,"v":0.91},{"s":"KERN-60","f":440,"v":0.81},{"s":"KERN-60","f":460,"v":0.87},{"s":"KERN-60","f":480,"v":0.84},{"s":"KERN-60","f":500,"v":0.8},{"s":"KERN-60","f":520,"v":0.75},{"s":"KERN-60","f":540,"v":0.72},{"s":"KERN-60","f":560,"v":0.78},{"s":"KERN-60","f":580,"v":0.77},
      {"s":"KERN-60","f":600,"v":0.89},{"s":"KERN-60","f":620,"v":0.97},{"s":"KERN-60","f":640,"v":1.07},{"s":"KERN-60","f":660,"v":0.98},{"s":"KERN-60","f":680,"v":1.05},{"s":"KERN-60","f":700,"v":1.1},{"s":"KERN-60","f":720,"v":1.16},{"s":"KERN-60","f":740,"v":1.26},{"s":"KERN-60","f":760,"v":1.27},{"s":"KERN-60","f":780,"v":1.27},
      {"s":"KERN-60","f":800,"v":1.25},{"s":"KERN-60","f":820,"v":1.28},{"s":"KERN-60","f":840,"v":1.2},{"s":"KERN-60","f":860,"v":1.31},{"s":"KERN-60","f":880,"v":1.26},{"s":"KERN-60","f":900,"v":1.22},{"s":"KERN-60","f":920,"v":1.1},{"s":"KERN-60","f":940,"v":0.98},{"s":"KERN-60","f":960,"v":1.02},{"s":"KERN-60","f":980,"v":0.98},
      {"s":"KERN-60","f":1000,"v":1.09},{"s":"KERN-60","f":1020,"v":0.76},{"s":"KERN-60","f":1040,"v":0.73},{"s":"KERN-60","f":1060,"v":0.77},{"s":"KERN-60","f":1080,"v":0.8},{"s":"KERN-60","f":1100,"v":0.76},{"s":"KERN-60","f":1120,"v":0.73},{"s":"KERN-60","f":1140,"v":0.72},{"s":"KERN-60","f":1160,"v":0.73},{"s":"KERN-60","f":1180,"v":0.71},
      {"s":"KERN-60","f":1200,"v":0.74},{"s":"KERN-60","f":1220,"v":0.69},{"s":"KERN-60","f":1240,"v":0.77},{"s":"KERN-60","f":1260,"v":0.83},{"s":"KERN-60","f":1280,"v":0.76},{"s":"KERN-60","f":1300,"v":0.64},{"s":"KERN-60","f":1320,"v":0.6},{"s":"KERN-60","f":1340,"v":0.63},{"s":"KERN-60","f":1360,"v":0.7},{"s":"KERN-60","f":1380,"v":0.65},
      {"s":"KERN-60","f":1400,"v":0.72},{"s":"KERN-60","f":1420,"v":0.89},{"s":"KERN-60","f":1440,"v":1.03},{"s":"KERN-60","f":1460,"v":0.89},{"s":"KERN-60","f":1480,"v":0.85},{"s":"KERN-60","f":1500,"v":0.8},{"s":"KERN-60","f":1520,"v":0.78},{"s":"KERN-60","f":1540,"v":0.78},{"s":"KERN-60","f":1560,"v":0.72},{"s":"KERN-60","f":1580,"v":0.74},
      {"s":"KERN-60","f":1600,"v":0.64},{"s":"KERN-60","f":1620,"v":0.62},{"s":"KERN-60","f":1640,"v":0.92},{"s":"KERN-60","f":1660,"v":0.74},{"s":"KERN-60","f":1680,"v":0.66},{"s":"KERN-60","f":1700,"v":0.57},{"s":"KERN-60","f":1720,"v":0.62},{"s":"KERN-60","f":1740,"v":0.75},{"s":"KERN-60","f":1760,"v":0.82},{"s":"KERN-60","f":1780,"v":0.79},
      {"s":"KERN-60","f":1800,"v":0.78},{"s":"KERN-60","f":1820,"v":0.79},{"s":"KERN-60","f":1840,"v":0.82},{"s":"KERN-60","f":1860,"v":0.95},{"s":"KERN-60","f":1880,"v":0.96},{"s":"KERN-60","f":1900,"v":0.92},{"s":"KERN-60","f":1920,"v":0.86},{"s":"KERN-60","f":1940,"v":0.82},{"s":"KERN-60","f":1960,"v":0.78},{"s":"KERN-60","f":1980,"v":0.76},
      {"s":"KERN-60","f":2000,"v":0.75}
    ]
  },
  "encoding": {
    "x": {
      "field": "f",
      "type": "quantitative",
      "scale": {"domain": [0, 2000], "nice": false},
      "axis": {
        "title": "Frames",
        "values": [0,100,200,300,400,500,600,700,800,900,1000,1100,1200,1300,1400,1500,1600,1700,1800,1900,2000],
        "format": "d",
        "labelAngle": -45,
        "labelAlign": "right",
        "labelBaseline": "middle",
        "labelOffset": 5,
        "labelPadding": 21,
        "tickSize": -5,
        "labelOverlap": false,
        "labelFlush": false,
        "titlePadding": 6
      }
    },
    "y": {
      "field": "v",
      "type": "quantitative",
      "scale": {"domain": [0, 2], "nice": false},
      "axis": {
        "title": "Mask Value",
        "values": [0,0.1,0.2,0.3,0.4,0.5,0.6,0.7,0.8,0.9,1,1.1,1.2,1.3,1.4,1.5,1.6,1.7,1.8,1.9,2],
        "format": "~g",
        "tickSize": -5,
        "labelPadding": 7,
        "labelOverlap": false,
        "labelFlush": false,
        "titlePadding": 10
      }
    },
    "color": {
      "field": "s",
      "type": "nominal",
      "sort": null,
      "scale": {
        "domain": ["MAT-10", "MAT-30", "MAT-60", "KERN-10", "KERN-30", "KERN-60"],
        "range": ["#9e0000", "#ff0000", "#ff5a5a", "#000099", "#0000ff", "#6b6bff"]
      },
      "legend": {
        "title": null,
        "orient": "none",
        "legendX": 75,
        "legendY": -74,
        "direction": "horizontal",
        "columns": 3,
        "columnPadding": 9,
        "rowPadding": 3,
        "padding": 4,
        "strokeColor": "#262626",
        "fillColor": "white",
        "labelFont": "Liberation Serif",
        "labelFontSize": 17,
        "labelColor": "black",
        "labelOffset": 36,
        "symbolType": "M-1,0H4.2",
        "symbolSize": 400,
        "symbolStrokeWidth": 2.5
      }
    },
    "strokeDash": {
      "field": "s",
      "type": "nominal",
      "sort": null,
      "scale": {
        "domain": ["MAT-10", "MAT-30", "MAT-60", "KERN-10", "KERN-30", "KERN-60"],
        "range": [[2.5, 2.5], [2.5, 2.5], [2.5, 2.5], [1, 0], [1, 0], [1, 0]]
      },
      "legend": null
    }
  },
  "layer": [
    {
      "transform": [{"filter": {"field": "s", "oneOf": ["MAT-10", "MAT-30", "MAT-60"]}}],
      "mark": {"type": "line", "strokeWidth": 2.4, "interpolate": "linear"}
    },
    {
      "transform": [{"filter": {"field": "s", "oneOf": ["KERN-10", "KERN-30", "KERN-60"]}}],
      "mark": {"type": "line", "strokeWidth": 2.8, "interpolate": "step-after"}
    }
  ]
}
